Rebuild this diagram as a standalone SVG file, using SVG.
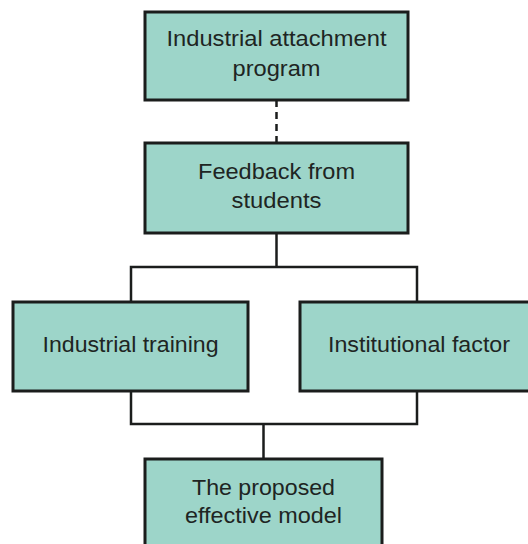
<svg xmlns="http://www.w3.org/2000/svg" width="528" height="544" viewBox="0 0 528 544">
  <style>
    .box { fill: #9dd5c9; stroke: #1b1d1c; stroke-width: 3; }
    .lbl { font-family: "Liberation Sans", Arial, sans-serif; font-size: 22px; fill: #1e2523; text-anchor: middle; }
    .wire { fill: none; stroke: #1b1d1c; stroke-width: 2.5; }
    .dash { stroke-dasharray: 7 5; }
  </style>
  <rect width="528" height="544" fill="#ffffff"/>

  <g id="connectors">
    <line class="wire dash" x1="276.5" y1="100" x2="276.5" y2="143"/>
    <line class="wire" x1="276.5" y1="233" x2="276.5" y2="267"/>
    <polyline class="wire" points="131,302 131,267 417,267 417,302"/>
    <polyline class="wire" points="131,391 131,424 417,424 417,391"/>
    <line class="wire" x1="263.5" y1="424" x2="263.5" y2="459"/>
  </g>

  <g id="attachment">
    <rect class="box" x="145" y="12" width="263" height="88"/>
    <text class="lbl" x="276.5" y="46" textLength="220" lengthAdjust="spacingAndGlyphs">Industrial attachment</text>
    <text class="lbl" x="276.5" y="76" textLength="88" lengthAdjust="spacingAndGlyphs">program</text>
  </g>

  <g id="feedback">
    <rect class="box" x="145" y="143" width="263" height="90"/>
    <text class="lbl" x="276.5" y="179" textLength="157" lengthAdjust="spacingAndGlyphs">Feedback from</text>
    <text class="lbl" x="276.5" y="208" textLength="90" lengthAdjust="spacingAndGlyphs">students</text>
  </g>

  <g id="training">
    <rect class="box" x="13" y="302" width="235" height="89"/>
    <text class="lbl" x="130.5" y="352" textLength="176" lengthAdjust="spacingAndGlyphs">Industrial training</text>
  </g>

  <g id="institutional">
    <rect class="box" x="300" y="302" width="238" height="89"/>
    <text class="lbl" x="419" y="352" textLength="182" lengthAdjust="spacingAndGlyphs">Institutional factor</text>
  </g>

  <g id="model">
    <rect class="box" x="145" y="459" width="237" height="100"/>
    <text class="lbl" x="263.5" y="495" textLength="143" lengthAdjust="spacingAndGlyphs">The proposed</text>
    <text class="lbl" x="263.5" y="523" textLength="157" lengthAdjust="spacingAndGlyphs">effective model</text>
  </g>
</svg>
